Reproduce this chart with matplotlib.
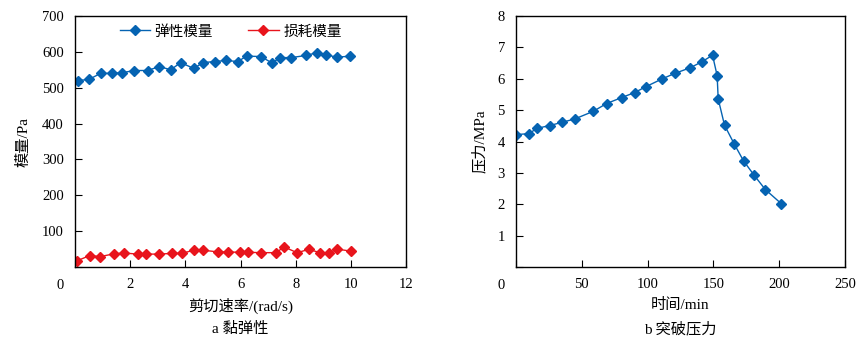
import matplotlib
matplotlib.use('Agg')
import matplotlib.pyplot as plt

plt.rcParams['font.family'] = ['Liberation Serif', 'Noto Sans CJK SC']
plt.rcParams['axes.unicode_minus'] = False

# viscoelasticity: shear rate vs modulus
rate_storage = [0.1, 0.5, 0.93, 1.35, 1.72, 2.15, 2.63, 3.06, 3.47, 3.83, 4.3, 4.65, 5.06,
                5.47, 5.9, 6.22, 6.74, 7.14, 7.44, 7.84, 8.38, 8.78, 9.1, 9.49, 9.96]
storage_modulus = [520, 523, 540, 540, 542, 548, 548, 559, 550, 570, 554, 570, 573,
                   576, 573, 588, 587, 569, 584, 584, 590, 598, 592, 585, 588]
rate_loss = [0.06, 0.54, 0.91, 1.43, 1.79, 2.27, 2.57, 3.06, 3.5, 3.87, 4.31, 4.63, 5.19,
             5.53, 5.97, 6.27, 6.76, 7.29, 7.58, 8.05, 8.47, 8.89, 9.22, 9.51, 10.01]
loss_modulus = [17, 32, 29, 37, 39, 36, 36, 36, 38, 38, 47, 47, 42,
                42, 41, 41, 40, 40, 56, 40, 49, 40, 40, 50, 44]

# breakthrough pressure over time
time_min = [0, 9.7, 16, 25.7, 34.8, 44.7, 58.6, 68.8, 80.2, 90.1, 98.8, 111.2,
            120.6, 132.3, 141.2, 149.3, 152.8, 153.6, 158.4, 165.8, 172.9, 181, 189.4, 201.5]
pressure = [4.22, 4.25, 4.42, 4.51, 4.61, 4.72, 4.96, 5.21, 5.40, 5.56, 5.75, 6.0,
            6.17, 6.35, 6.54, 6.75, 6.10, 5.36, 4.52, 3.92, 3.38, 2.92, 2.47, 2.02]

blue = '#0563B2'
red = '#E8141C'

fig = plt.figure(figsize=(8.67, 3.44), dpi=100)
ax1 = fig.add_axes([0.0865, 0.2238, 0.3818, 0.7297])
ax2 = fig.add_axes([0.5952, 0.2238, 0.3795, 0.7297])

ax1.plot(rate_storage, storage_modulus, color=blue, lw=1, marker='D', ms=5.3, label='弹性模量')
ax1.plot(rate_loss, loss_modulus, color=red, lw=1, marker='D', ms=5.3, label='损耗模量')
ax1.set_xlim(0, 12)
ax1.set_ylim(0, 700)
ax1.set_xticks(range(0, 13, 2))
ax1.set_xticklabels([''] + [str(v) for v in range(2, 13, 2)])
ax1.set_yticks(range(0, 701, 100))
ax1.set_yticklabels([''] + [str(v) for v in range(100, 701, 100)])
ax1.set_xlabel('剪切速率/(rad/s)', fontsize=11, labelpad=5)
ax1.set_ylabel('模量/Pa', fontsize=11, labelpad=8)
ax1.legend(loc='upper center', ncol=2, frameon=False, fontsize=10.5,
           handlelength=2.1, handletextpad=0.3, columnspacing=2.4, borderaxespad=0.2,
           bbox_to_anchor=(0.47, 1.0))

ax2.plot(time_min, pressure, color=blue, lw=1, marker='D', ms=5.3)
ax2.set_xlim(0, 250)
ax2.set_ylim(0, 8)
ax2.set_xticks(range(0, 251, 50))
ax2.set_xticklabels([''] + [str(v) for v in range(50, 251, 50)])
ax2.set_yticks(range(0, 9))
ax2.set_yticklabels([''] + [str(v) for v in range(1, 9)])
ax2.set_xlabel('时间/min', fontsize=11, labelpad=5)
ax2.set_ylabel('压力/MPa', fontsize=11, labelpad=8)

for ax in (ax1, ax2):
    ax.tick_params(direction='in', length=5, width=0.8, labelsize=10.5, pad=8)
    for s in ax.spines.values():
        s.set_linewidth(1)
    # shared origin label sits left of the corner
    ax.annotate('0', xy=(0, 0), xycoords='axes fraction', xytext=(-15, -12),
                textcoords='offset pixels', ha='center', va='top', fontsize=10.5)

fig.text(0.2774, 0.044, 'a 黏弹性', ha='center', va='center', fontsize=11)
fig.text(0.785, 0.044, 'b 突破压力', ha='center', va='center', fontsize=11)

fig.savefig('out.png', dpi=100)
